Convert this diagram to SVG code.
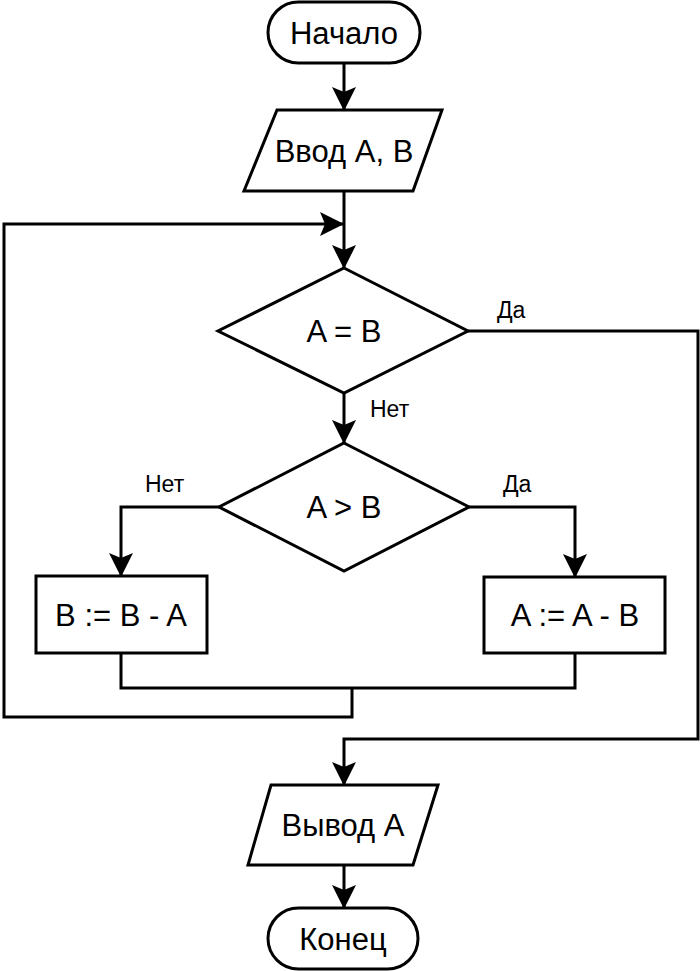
<svg xmlns="http://www.w3.org/2000/svg" width="700" height="971" viewBox="0 0 700 971">
<style>
.s{fill:#fff;stroke:#000;stroke-width:3}
.c{fill:none;stroke:#000;stroke-width:3}
.t{font-family:"Liberation Sans",Arial,sans-serif;font-size:31px;text-anchor:middle;fill:#000}
.l{font-family:"Liberation Sans",Arial,sans-serif;font-size:23px;fill:#000}
</style>
<defs>
<marker id="a" markerUnits="userSpaceOnUse" markerWidth="24" markerHeight="30" viewBox="0 0 24 24" refX="23" refY="12" orient="auto">
<path d="M0,0 L24,12 L0,24 L5,12 Z" fill="#000"/>
</marker>
</defs>
<rect width="700" height="971" fill="#fff"/>
<g id="connectors">
<line class="c" x1="344" y1="63" x2="344" y2="110" marker-end="url(#a)"/>
<line class="c" x1="344" y1="191" x2="344" y2="268" marker-end="url(#a)"/>
<polyline class="c" points="352,688 352,717 4,717 4,224 343,224" marker-end="url(#a)"/>
<line class="c" x1="344" y1="393" x2="344" y2="443" marker-end="url(#a)"/>
<polyline class="c" points="219,507 121,507 121,576" marker-end="url(#a)"/>
<polyline class="c" points="469,507 575,507 575,577" marker-end="url(#a)"/>
<polyline class="c" points="121,653 121,688 575,688 575,653"/>
<polyline class="c" points="468,331 698,331 698,739 344,739 344,785" marker-end="url(#a)"/>
<line class="c" x1="344" y1="865" x2="344" y2="908" marker-end="url(#a)"/>
<text class="l" x="497" y="318">Да</text>
<text class="l" x="370" y="417">Нет</text>
<text class="l" x="145" y="492">Нет</text>
<text class="l" x="503" y="492">Да</text>
</g>
<g id="start">
<rect class="s" x="268" y="2" width="152" height="61" rx="30.5"/>
<text class="t" x="344" y="44">Начало</text>
</g>
<g id="input">
<polygon class="s" points="277,110 442,110 413,191 244,191"/>
<text class="t" x="344" y="162">Ввод А, В</text>
</g>
<g id="cond1">
<polygon class="s" points="344,268 468,331 344,393 218,331"/>
<text class="t" x="344" y="342">A = B</text>
</g>
<g id="cond2">
<polygon class="s" points="344,443 469,507 344,571 219,507"/>
<text class="t" x="344" y="518">A &gt; B</text>
</g>
<g id="stepB">
<rect class="s" x="36" y="576" width="171" height="77"/>
<text class="t" x="121" y="626">B := B - A</text>
</g>
<g id="stepA">
<rect class="s" x="484" y="577" width="181" height="76"/>
<text class="t" x="575" y="626">A := A - B</text>
</g>
<g id="output">
<polygon class="s" points="271,785 438,785 413,865 248,865"/>
<text class="t" x="343" y="836">Вывод А</text>
</g>
<g id="end">
<rect class="s" x="268" y="908" width="150" height="61" rx="30.5"/>
<text class="t" x="343" y="950">Конец</text>
</g>
</svg>
